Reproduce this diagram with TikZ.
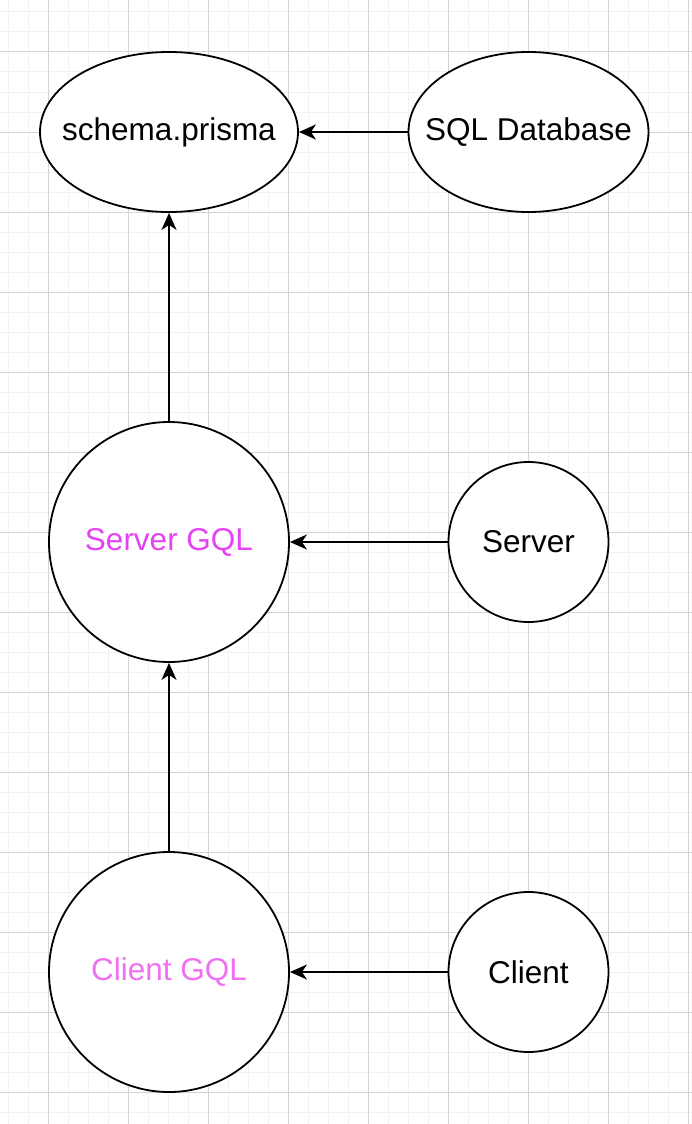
\documentclass[tikz,border=0pt]{standalone}
\usepackage{fontspec}
\setmainfont{Liberation Sans}
\usetikzlibrary{shapes.geometric,arrows.meta}
\definecolor{minorgrid}{HTML}{F2F2F2}
\definecolor{majorgrid}{HTML}{D4D4D4}
\definecolor{srvgql}{HTML}{E541F5}
\definecolor{cligql}{HTML}{F070F2}
\tikzset{
  ell/.style={ellipse,draw=black,line width=1.8pt,fill=white,inner sep=0pt,
    font=\fontsize{31.5}{38}\selectfont},
  circ/.style={circle,draw=black,line width=1.8pt,fill=white,inner sep=0pt,
    font=\fontsize{31.5}{38}\selectfont},
  conn/.style={line width=1.8pt,-{Stealth[length=17pt,width=15pt,inset=5pt]}}
}
\begin{document}
\begin{tikzpicture}[x=1pt,y=-1pt]
\useasboundingbox (0,0) rectangle (692,1124);
\fill[white] (0,0) rectangle (692,1124);
% minor grid
\foreach \i in {0,...,34} {\draw[minorgrid,line width=1pt] ({8+20*\i},0) -- ({8+20*\i},1124);}
\foreach \j in {0,...,55} {\draw[minorgrid,line width=1pt] (0,{12+20*\j}) -- (692,{12+20*\j});}
% major grid
\foreach \i in {0,...,8} {\draw[majorgrid,line width=1pt] ({48+80*\i},0) -- ({48+80*\i},1124);}
\foreach \j in {0,...,13} {\draw[majorgrid,line width=1pt] (0,{52+80*\j}) -- (692,{52+80*\j});}
% nodes
\node[ell,minimum width=258pt,minimum height=160pt] (schema) at (169,132) {\makebox[0pt]{schema.prisma}};
\node[ell,minimum width=240pt,minimum height=160pt] (sql) at (528.5,132) {\makebox[0pt]{SQL Database}};
\node[circ,minimum size=240pt,text=srvgql] (sgql) at (169,542) {Server GQL};
\node[circ,minimum size=160pt] (server) at (528.5,542) {Server};
\node[circ,minimum size=240pt,text=cligql] (cgql) at (169,972) {Client GQL};
\node[circ,minimum size=160pt] (client) at (528.5,972) {Client};
% connectors
\draw[conn] (sql) -- (schema);
\draw[conn] (sgql) -- (schema);
\draw[conn] (server) -- (sgql);
\draw[conn] (cgql) -- (sgql);
\draw[conn] (client) -- (cgql);
\end{tikzpicture}
\end{document}
